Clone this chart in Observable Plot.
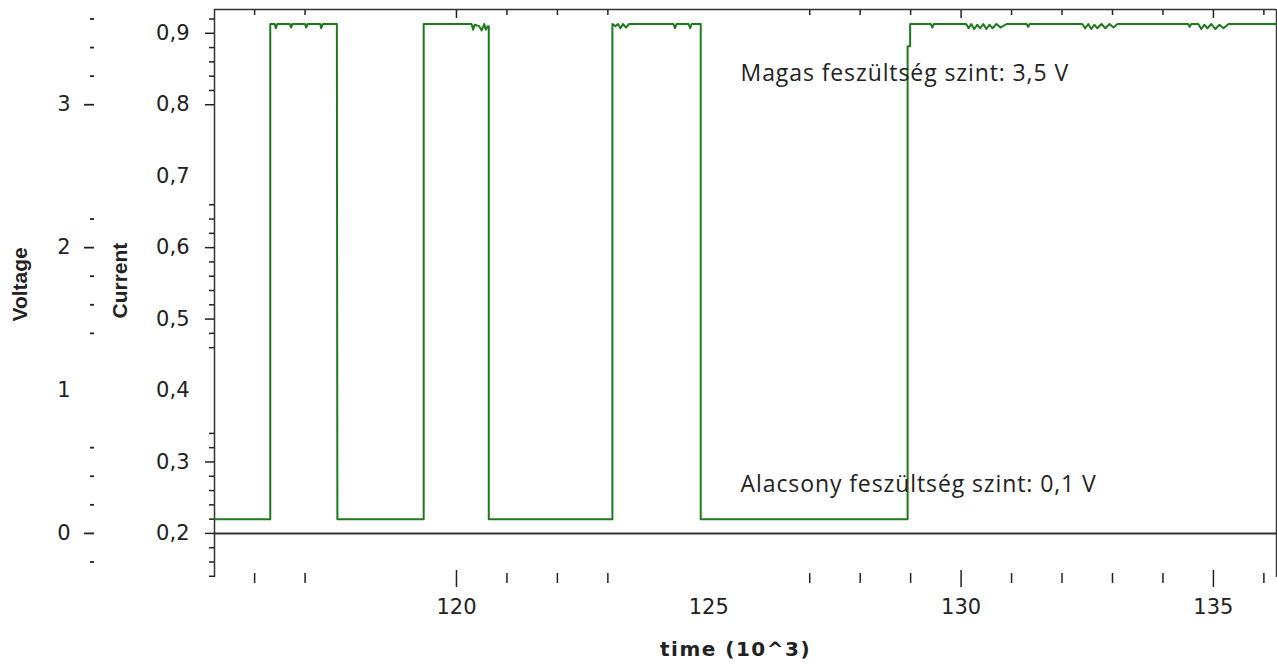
<!DOCTYPE html>
<html><head><meta charset="utf-8">
<script src="https://cdn.jsdelivr.net/npm/d3@7"></script>
<script src="https://cdn.jsdelivr.net/npm/@observablehq/plot@0.6"></script>
<style>
body{margin:0;background:#fff;}
#chart svg{display:block;}
</style></head><body><div id="chart"></div>
<script>
// signal: time (10^3) and current
const time = [115.21,116.31,116.31,116.40,116.42,116.45,116.70,116.72,116.75,117.00,117.02,117.05,117.30,117.32,117.35,117.63,117.64,
  119.35,119.35,120.30,120.33,120.36,120.45,120.50,120.55,120.58,120.62,120.64,120.64,
  123.09,123.09,123.15,123.20,123.25,123.30,123.36,123.42,124.30,124.33,124.36,124.60,124.63,124.66,124.84,124.84,
  128.94,128.94,128.99,128.99,129.40,129.43,129.46,130.10,130.15,130.20,130.26,130.32,130.38,130.44,130.50,130.56,130.62,130.70,130.78,130.90,
  131.30,131.33,131.36,132.40,132.46,132.52,132.58,132.64,132.70,132.78,132.86,132.94,133.02,133.10,
  134.50,134.53,134.56,134.70,134.76,134.82,134.88,134.96,135.04,135.12,135.20,135.30,136.25];
const current = [0.220,0.220,0.913,0.913,0.907,0.913,0.913,0.908,0.913,0.913,0.908,0.913,0.913,0.907,0.913,0.913,0.220,
  0.220,0.913,0.913,0.905,0.912,0.910,0.904,0.913,0.905,0.910,0.910,0.220,
  0.220,0.913,0.910,0.913,0.907,0.913,0.908,0.913,0.913,0.907,0.913,0.913,0.907,0.913,0.913,0.220,
  0.220,0.882,0.882,0.913,0.913,0.908,0.913,0.913,0.907,0.913,0.906,0.912,0.907,0.913,0.906,0.912,0.907,0.913,0.908,0.913,
  0.913,0.909,0.913,0.913,0.907,0.913,0.906,0.912,0.907,0.913,0.907,0.913,0.908,0.913,
  0.913,0.909,0.913,0.913,0.906,0.912,0.907,0.913,0.906,0.912,0.907,0.913,0.913];

// axis ticks
const currentLabels = [0.2,0.3,0.4,0.5,0.6,0.7,0.8,0.9];
const currentMajor = [0.2,0.3,0.5,0.6,0.8,0.9];
const currentMinor = [0.14,0.16,0.18,0.22,0.24,0.26,0.28,0.32,0.34,0.46,0.48,0.52,0.54,0.56,0.58,0.62,0.64,0.66,0.82,0.84,0.86,0.88,0.92];
const voltLabels = [0,1,2,3];
const voltMajor = [0,2,3];
const voltMinor = [-0.2,0.2,0.4,0.6,1.4,1.6,1.8,2.2,3.2,3.4,3.6];
const timeLabels = [120,125,130,135];
const timeMajor = [120,130,135];
const timeMinor = [116,117,121,122,123,127,128,129,131,132,133,134,136];

// annotations
const noteTexts = ["Magas feszültség szint: 3,5 V", "Alacsony feszültség szint: 0,1 V"];
const noteTime = [125.63, 125.63];
const noteCurrent = [0.844, 0.2686];

const xDomain = [115.205, 136.25];
const yDomain = [0.1383, 0.9333];
const vToI = v => 0.2 + v / 5;   // Voltage axis: V = (I - 0.2) * 5

const points = time.map((t, k) => ({t, i: current[k]}));
const notes = noteTexts.map((text, k) => ({text, t: noteTime[k], i: noteCurrent[k]}));

const ink = "#222";
const chart = Plot.plot({
  width: 1277, height: 664,
  marginLeft: 214, marginRight: 1, marginTop: 9, marginBottom: 87,
  x: {domain: xDomain, label: null},
  y: {domain: yDomain, label: null},
  style: {fontFamily: "DejaVu Sans", fontSize: "21px", color: ink, background: "#fff"},
  marks: [
    Plot.ruleY([yDomain[1]], {stroke: "#333", strokeWidth: 1.5}),
    Plot.ruleX(xDomain, {stroke: "#333", strokeWidth: 1.5}),
    Plot.ruleY([0.2], {stroke: "#333", strokeWidth: 2}),
    Plot.line(points, {x: "t", y: "i", stroke: "#1c7a1c", strokeWidth: 2}),
    // current axis
    Plot.axisY(currentLabels, {anchor: "left", tickSize: 0, tickPadding: 25, tickFormat: d => d.toFixed(1).replace(".", ","), label: null}),
    Plot.axisY(currentMajor, {anchor: "left", tickSize: 9, fill: "none", strokeWidth: 1.5}),
    Plot.axisY(currentMinor, {anchor: "left", tickSize: 5, fill: "none", strokeWidth: 1.5}),
    // voltage axis
    Plot.axisY(voltLabels.map(vToI), {anchor: "left", tickSize: 0, tickPadding: 144, tickFormat: d => String(Math.round((d - 0.2) * 5)), label: null}),
    Plot.axisY(voltMajor.map(vToI), {anchor: "left", tickSize: 10, dx: -120, fill: "none", strokeWidth: 1.8}),
    Plot.axisY(voltMinor.map(vToI), {anchor: "left", tickSize: 4, dx: -120, fill: "none", strokeWidth: 1.8}),
    // time axis (bottom)
    Plot.axisX(timeLabels, {anchor: "bottom", tickSize: 0, tickPadding: 22, label: null}),
    Plot.axisX(timeMajor, {anchor: "bottom", tickSize: 17, dy: -7, fill: "none", strokeWidth: 1.5}),
    Plot.axisX(timeMinor, {anchor: "bottom", tickSize: 10, dy: -4, fill: "none", strokeWidth: 1.5}),
    // time ticks (top, inward)
    Plot.axisX(timeMajor, {anchor: "top", tickSize: 8, dy: 8, fill: "none", strokeWidth: 1.5}),
    Plot.axisX(timeMinor, {anchor: "top", tickSize: 5, dy: 5, fill: "none", strokeWidth: 1.5}),
    // axis titles
    Plot.text(["Voltage"], {frameAnchor: "left", dx: -194, dy: 28, rotate: -90, fontWeight: "bold", fontSize: 21, fontFamily: "Liberation Sans", fill: ink}),
    Plot.text(["Current"], {frameAnchor: "left", dx: -94, dy: 25, rotate: -90, fontWeight: "bold", fontSize: 21, fontFamily: "Liberation Sans", fill: ink}),
    Plot.text(["time (10^3)"], {frameAnchor: "bottom", dx: -10, dy: 78, fontWeight: "bold", fontSize: 20, fontFamily: "DejaVu Sans", fill: ink}),
    // annotations
    Plot.text(notes, {x: "t", y: "i", text: "text", textAnchor: "start", fontFamily: "Open Sans", fontSize: 23, fill: ink})
  ]
});
d3.select(chart).selectAll("text")
  .filter(function() { return noteTexts.includes(this.textContent); })
  .style("letter-spacing", "0.9px");
d3.select(chart).selectAll("text")
  .filter(function() { return this.textContent === "time (10^3)"; })
  .style("letter-spacing", "1.5px");
document.getElementById("chart").appendChild(chart);
</script>
</body></html>
